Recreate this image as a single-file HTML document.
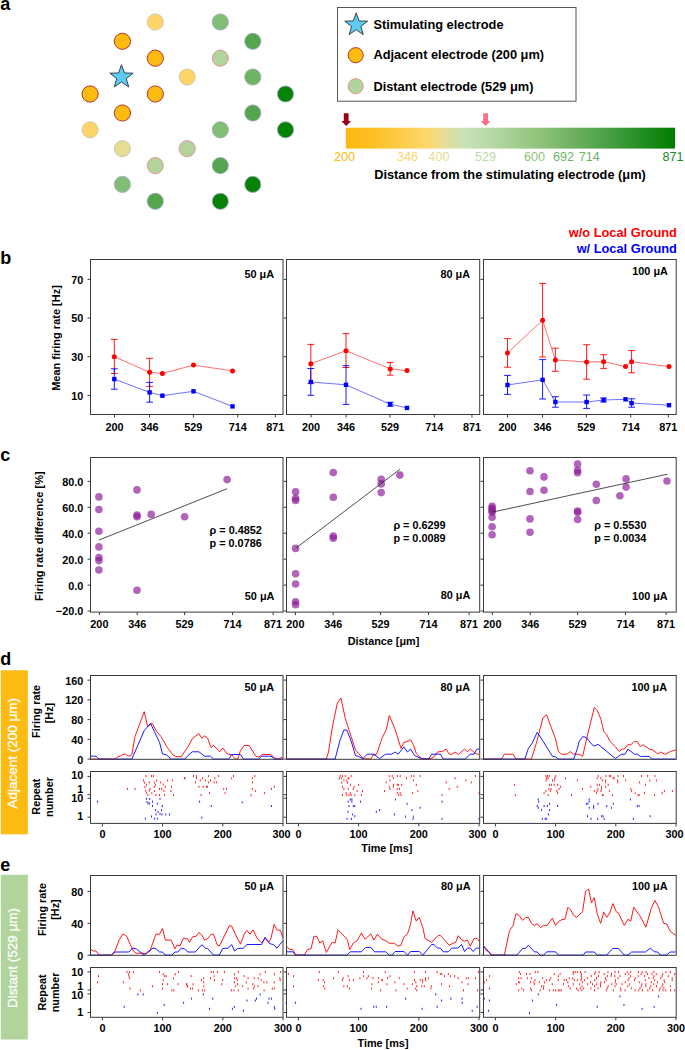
<!DOCTYPE html><html><head><meta charset="utf-8"><style>html,body{margin:0;padding:0;background:#fff;}svg{display:block;font-family:"Liberation Sans",sans-serif;}</style></head><body><svg width="685" height="1050" viewBox="0 0 685 1050"><rect width="685" height="1050" fill="#fff"/><text x="0.3" y="10.3" font-size="18" font-weight="bold" fill="#000" text-anchor="start">a</text>
<circle cx="155.3" cy="22" r="8.1" fill="#fdd466" stroke="#c9c7b6" stroke-width="0.9"/>
<circle cx="220.3" cy="22" r="8.1" fill="#82bd76" stroke="#a3aebb" stroke-width="0.9"/>
<circle cx="122.4" cy="41.3" r="8.1" fill="#fdbb12" stroke="#a3262a" stroke-width="0.9"/>
<circle cx="252.8" cy="41.3" r="8.1" fill="#55a54f" stroke="#a3aebb" stroke-width="0.9"/>
<circle cx="155.3" cy="58.2" r="8.1" fill="#fdbb12" stroke="#a3262a" stroke-width="0.9"/>
<circle cx="220.3" cy="58.2" r="8.1" fill="#b0d49c" stroke="#e98e96" stroke-width="0.9"/>
<circle cx="187.2" cy="77" r="8.1" fill="#fdd466" stroke="#c9c7b6" stroke-width="0.9"/>
<circle cx="252.8" cy="77" r="8.1" fill="#6db463" stroke="#a3aebb" stroke-width="0.9"/>
<circle cx="90.1" cy="94" r="8.1" fill="#fdbb12" stroke="#a3262a" stroke-width="0.9"/>
<circle cx="155.3" cy="94" r="8.1" fill="#fdbb12" stroke="#a3262a" stroke-width="0.9"/>
<circle cx="285.5" cy="94" r="8.1" fill="#068206" stroke="#a3aebb" stroke-width="0.9"/>
<circle cx="122.4" cy="113" r="8.1" fill="#fdbb12" stroke="#a3262a" stroke-width="0.9"/>
<circle cx="252.8" cy="113" r="8.1" fill="#55a54f" stroke="#a3aebb" stroke-width="0.9"/>
<circle cx="90.1" cy="129.8" r="8.1" fill="#fdd466" stroke="#c9c7b6" stroke-width="0.9"/>
<circle cx="220.3" cy="129.8" r="8.1" fill="#82bd76" stroke="#a3aebb" stroke-width="0.9"/>
<circle cx="285.5" cy="129.8" r="8.1" fill="#068206" stroke="#a3aebb" stroke-width="0.9"/>
<circle cx="122.4" cy="148.7" r="8.1" fill="#e4dd92" stroke="#c9c7b6" stroke-width="0.9"/>
<circle cx="187.2" cy="148.7" r="8.1" fill="#b0d49c" stroke="#e98e96" stroke-width="0.9"/>
<circle cx="155.3" cy="165.6" r="8.1" fill="#b0d49c" stroke="#e98e96" stroke-width="0.9"/>
<circle cx="220.3" cy="165.6" r="8.1" fill="#55a54f" stroke="#a3aebb" stroke-width="0.9"/>
<circle cx="122.4" cy="184.4" r="8.1" fill="#82bd76" stroke="#a3aebb" stroke-width="0.9"/>
<circle cx="252.8" cy="184.4" r="8.1" fill="#068206" stroke="#a3aebb" stroke-width="0.9"/>
<circle cx="155.3" cy="201.3" r="8.1" fill="#55a54f" stroke="#a3aebb" stroke-width="0.9"/>
<circle cx="220.3" cy="201.3" r="8.1" fill="#068206" stroke="#a3aebb" stroke-width="0.9"/>
<polygon points="121.5,64.7 124.44,72.95 133.2,73.2 126.26,78.55 128.73,86.95 121.5,82 114.27,86.95 116.74,78.55 109.8,73.2 118.56,72.95" fill="#5bcdf3" stroke="#2b2f3a" stroke-width="0.9" stroke-linejoin="miter"/>
<rect x="337.5" y="7.5" width="238.5" height="93.7" fill="#fff" stroke="#555" stroke-width="1"/>
<polygon points="356.2,12.9 359.08,20.94 367.61,21.19 360.86,26.41 363.25,34.61 356.2,29.8 349.15,34.61 351.54,26.41 344.79,21.19 353.32,20.94" fill="#5bcdf3" stroke="#2b2f3a" stroke-width="0.9"/>
<circle cx="355.7" cy="55.2" r="7.6" fill="#fdbb12" stroke="#a3262a" stroke-width="0.9"/>
<circle cx="355.7" cy="86.2" r="7.6" fill="#b0d49c" stroke="#e98e96" stroke-width="0.9"/>
<text x="373.4" y="28.6" font-size="12.8" font-weight="bold" fill="#000" text-anchor="start">Stimulating electrode</text>
<text x="373.4" y="59.4" font-size="12.8" font-weight="bold" fill="#000" text-anchor="start">Adjacent electrode (200 μm)</text>
<text x="373.4" y="90.8" font-size="12.8" font-weight="bold" fill="#000" text-anchor="start">Distant electrode (529 μm)</text>
<defs><linearGradient id="cb" x1="0" x2="1" y1="0" y2="0"><stop offset="0" stop-color="#fdba10"/><stop offset="0.08" stop-color="#fdc023"/><stop offset="0.25" stop-color="#fdd86c"/><stop offset="0.30" stop-color="#e6dc98"/><stop offset="0.36" stop-color="#c8e2b8"/><stop offset="0.42" stop-color="#bcdcab"/><stop offset="0.58" stop-color="#93c47d"/><stop offset="0.78" stop-color="#4ea24a"/><stop offset="1" stop-color="#007d00"/></linearGradient></defs>
<rect x="345.8" y="127.7" width="329.2" height="20.9" fill="url(#cb)"/>
<path d="M343.8,113.2 h4.8 v7.9 h2.5 L346.2,126.1 L341.3,121.1 h2.5 z" fill="#970019"/>
<path d="M483.2,113.2 h4.8 v7.9 h2.5 L485.6,126.1 L480.7,121.1 h2.5 z" fill="#ff6f88"/>
<text x="344.5" y="161.2" font-size="12.6" font-weight="normal" fill="#fdb913" text-anchor="middle">200</text>
<text x="407.5" y="161.2" font-size="12.6" font-weight="normal" fill="#fdd567" text-anchor="middle">346</text>
<text x="439" y="161.2" font-size="12.6" font-weight="normal" fill="#e3dd94" text-anchor="middle">400</text>
<text x="485.6" y="161.2" font-size="12.6" font-weight="normal" fill="#b9dba6" text-anchor="middle">529</text>
<text x="534.4" y="161.2" font-size="12.6" font-weight="normal" fill="#8ec47c" text-anchor="middle">600</text>
<text x="563.5" y="161.2" font-size="12.6" font-weight="normal" fill="#6cb462" text-anchor="middle">692</text>
<text x="589.2" y="161.2" font-size="12.6" font-weight="normal" fill="#6cb462" text-anchor="middle">714</text>
<text x="673" y="161.2" font-size="12.6" font-weight="normal" fill="#168a1a" text-anchor="middle">871</text>
<text x="510" y="178.6" font-size="12.8" font-weight="bold" fill="#000" text-anchor="middle">Distance from the stimulating electrode (μm)</text>
<text x="0.3" y="264.3" font-size="18" font-weight="bold" fill="#000" text-anchor="start">b</text>
<text x="676.9" y="236.6" font-size="12.8" font-weight="bold" fill="#ff0000" text-anchor="end">w/o Local Ground</text>
<text x="676.9" y="252.8" font-size="12.8" font-weight="bold" fill="#0000ff" text-anchor="end">w/ Local Ground</text>
<text x="60.2" y="338" font-size="11.0" font-weight="bold" fill="#000" text-anchor="middle" transform="rotate(-90 60.2 338)">Mean firing rate [Hz]</text>
<path d="M114.3,356.7 L149.6,372.3 L162.4,373.5 L193.5,365.1 L232.5,370.9" stroke="#ff0000" stroke-width="0.75" fill="none" stroke-opacity="0.75" stroke-linejoin="round"/>
<path d="M114.3,339.4V373.5M110.9,339.4H117.7M110.9,373.5H117.7" stroke="#ff0000" stroke-width="0.9" fill="none"/>
<path d="M149.6,358.3V386.4M146.2,358.3H153M146.2,386.4H153" stroke="#ff0000" stroke-width="0.9" fill="none"/>
<circle cx="114.3" cy="356.7" r="2.5" fill="#ff0000"/>
<circle cx="149.6" cy="372.3" r="2.5" fill="#ff0000"/>
<circle cx="162.4" cy="373.5" r="2.5" fill="#ff0000"/>
<circle cx="193.5" cy="365.1" r="2.5" fill="#ff0000"/>
<circle cx="232.5" cy="370.9" r="2.5" fill="#ff0000"/>
<path d="M114.3,379.1 L149.6,392.4 L162.4,395.7 L193.5,391.3 L232.5,406.4" stroke="#0000ff" stroke-width="0.75" fill="none" stroke-opacity="0.75" stroke-linejoin="round"/>
<path d="M114.3,368.8V389.2M110.9,368.8H117.7M110.9,389.2H117.7" stroke="#0000ff" stroke-width="0.9" fill="none"/>
<path d="M149.6,382.4V402.2M146.2,382.4H153M146.2,402.2H153" stroke="#0000ff" stroke-width="0.9" fill="none"/>
<rect x="112.1" y="376.9" width="4.4" height="4.4" fill="#0000ff"/>
<rect x="147.4" y="390.2" width="4.4" height="4.4" fill="#0000ff"/>
<rect x="160.2" y="393.5" width="4.4" height="4.4" fill="#0000ff"/>
<rect x="191.3" y="389.1" width="4.4" height="4.4" fill="#0000ff"/>
<rect x="230.3" y="404.2" width="4.4" height="4.4" fill="#0000ff"/>
<rect x="90.5" y="259.5" width="192.5" height="155" fill="none" stroke="#3a3a3a" stroke-width="1"/>
<path d="M87.5,395.37H90.5M87.5,356.71H90.5M87.5,318.05H90.5M87.5,279.39H90.5" stroke="#3a3a3a" stroke-width="1" fill="none"/>
<path d="M114.5,414.5V417.5M149.5,414.5V417.5M193.36,414.5V417.5M237.71,414.5V417.5M275.34,414.5V417.5" stroke="#3a3a3a" stroke-width="1" fill="none"/>
<text x="114.5" y="430.6" font-size="10.85" font-weight="bold" fill="#000" text-anchor="middle">200</text>
<text x="149.5" y="430.6" font-size="10.85" font-weight="bold" fill="#000" text-anchor="middle">346</text>
<text x="193.36" y="430.6" font-size="10.85" font-weight="bold" fill="#000" text-anchor="middle">529</text>
<text x="237.71" y="430.6" font-size="10.85" font-weight="bold" fill="#000" text-anchor="middle">714</text>
<text x="275.34" y="430.6" font-size="10.85" font-weight="bold" fill="#000" text-anchor="middle">871</text>
<text x="274" y="278.4" font-size="10.85" font-weight="bold" fill="#000" text-anchor="end">50 μA</text>
<path d="M310.8,363.8 L346,350.7 L390.2,368.9 L407,370.6" stroke="#ff0000" stroke-width="0.75" fill="none" stroke-opacity="0.75" stroke-linejoin="round"/>
<path d="M310.8,344.4V383.4M307.4,344.4H314.2M307.4,383.4H314.2" stroke="#ff0000" stroke-width="0.9" fill="none"/>
<path d="M346,333.6V367.5M342.6,333.6H349.4M342.6,367.5H349.4" stroke="#ff0000" stroke-width="0.9" fill="none"/>
<path d="M390.2,362.4V375.2M386.8,362.4H393.6M386.8,375.2H393.6" stroke="#ff0000" stroke-width="0.9" fill="none"/>
<circle cx="310.8" cy="363.8" r="2.5" fill="#ff0000"/>
<circle cx="346" cy="350.7" r="2.5" fill="#ff0000"/>
<circle cx="390.2" cy="368.9" r="2.5" fill="#ff0000"/>
<circle cx="407" cy="370.6" r="2.5" fill="#ff0000"/>
<path d="M310.8,382 L346,384.8 L390.2,404.2 L407,407.9" stroke="#0000ff" stroke-width="0.75" fill="none" stroke-opacity="0.75" stroke-linejoin="round"/>
<path d="M310.8,368.5V395.3M307.4,368.5H314.2M307.4,395.3H314.2" stroke="#0000ff" stroke-width="0.9" fill="none"/>
<path d="M346,365.7V404.4M342.6,365.7H349.4M342.6,404.4H349.4" stroke="#0000ff" stroke-width="0.9" fill="none"/>
<path d="M390.2,402.3V406.3M386.8,402.3H393.6M386.8,406.3H393.6" stroke="#0000ff" stroke-width="0.9" fill="none"/>
<rect x="308.6" y="379.8" width="4.4" height="4.4" fill="#0000ff"/>
<rect x="343.8" y="382.6" width="4.4" height="4.4" fill="#0000ff"/>
<rect x="388" y="402" width="4.4" height="4.4" fill="#0000ff"/>
<rect x="404.8" y="405.7" width="4.4" height="4.4" fill="#0000ff"/>
<rect x="286.5" y="259.5" width="193.2" height="155" fill="none" stroke="#3a3a3a" stroke-width="1"/>
<path d="M283.5,395.37H286.5M283.5,356.71H286.5M283.5,318.05H286.5M283.5,279.39H286.5" stroke="#3a3a3a" stroke-width="1" fill="none"/>
<path d="M311.1,414.5V417.5M346.1,414.5V417.5M389.96,414.5V417.5M434.31,414.5V417.5M471.94,414.5V417.5" stroke="#3a3a3a" stroke-width="1" fill="none"/>
<text x="311.1" y="430.6" font-size="10.85" font-weight="bold" fill="#000" text-anchor="middle">200</text>
<text x="346.1" y="430.6" font-size="10.85" font-weight="bold" fill="#000" text-anchor="middle">346</text>
<text x="389.96" y="430.6" font-size="10.85" font-weight="bold" fill="#000" text-anchor="middle">529</text>
<text x="434.31" y="430.6" font-size="10.85" font-weight="bold" fill="#000" text-anchor="middle">714</text>
<text x="471.94" y="430.6" font-size="10.85" font-weight="bold" fill="#000" text-anchor="middle">871</text>
<text x="470.1" y="277.9" font-size="10.85" font-weight="bold" fill="#000" text-anchor="end">80 μA</text>
<path d="M507.5,352.9 L542.6,320.2 L555.4,359.9 L586.6,362 L603.6,361.7 L625.5,366.6 L631.6,361.7 L669,366.6" stroke="#ff0000" stroke-width="0.75" fill="none" stroke-opacity="0.75" stroke-linejoin="round"/>
<path d="M507.5,338.6V367.2M504.1,338.6H510.9M504.1,367.2H510.9" stroke="#ff0000" stroke-width="0.9" fill="none"/>
<path d="M542.6,283.4V357M539.2,283.4H546M539.2,357H546" stroke="#ff0000" stroke-width="0.9" fill="none"/>
<path d="M555.4,348.2V371.3M552,348.2H558.8M552,371.3H558.8" stroke="#ff0000" stroke-width="0.9" fill="none"/>
<path d="M586.6,344.7V379.2M583.2,344.7H590M583.2,379.2H590" stroke="#ff0000" stroke-width="0.9" fill="none"/>
<path d="M603.6,354.7V368.4M600.2,354.7H607M600.2,368.4H607" stroke="#ff0000" stroke-width="0.9" fill="none"/>
<path d="M631.6,350.6V372.8M628.2,350.6H635M628.2,372.8H635" stroke="#ff0000" stroke-width="0.9" fill="none"/>
<circle cx="507.5" cy="352.9" r="2.5" fill="#ff0000"/>
<circle cx="542.6" cy="320.2" r="2.5" fill="#ff0000"/>
<circle cx="555.4" cy="359.9" r="2.5" fill="#ff0000"/>
<circle cx="586.6" cy="362" r="2.5" fill="#ff0000"/>
<circle cx="603.6" cy="361.7" r="2.5" fill="#ff0000"/>
<circle cx="625.5" cy="366.6" r="2.5" fill="#ff0000"/>
<circle cx="631.6" cy="361.7" r="2.5" fill="#ff0000"/>
<circle cx="669" cy="366.6" r="2.5" fill="#ff0000"/>
<path d="M507.5,385 L542.6,379.8 L555.4,402 L586.6,402 L603.6,400 L625.5,399.3 L631.6,403.1 L669,405.2" stroke="#0000ff" stroke-width="0.75" fill="none" stroke-opacity="0.75" stroke-linejoin="round"/>
<path d="M507.5,375.4V394.4M504.1,375.4H510.9M504.1,394.4H510.9" stroke="#0000ff" stroke-width="0.9" fill="none"/>
<path d="M542.6,359.6V399M539.2,359.6H546M539.2,399H546" stroke="#0000ff" stroke-width="0.9" fill="none"/>
<path d="M555.4,396.7V407.2M552,396.7H558.8M552,407.2H558.8" stroke="#0000ff" stroke-width="0.9" fill="none"/>
<path d="M586.6,395V408.4M583.2,395H590M583.2,408.4H590" stroke="#0000ff" stroke-width="0.9" fill="none"/>
<path d="M603.6,398V402M600.2,398H607M600.2,402H607" stroke="#0000ff" stroke-width="0.9" fill="none"/>
<path d="M631.6,398.8V407.2M628.2,398.8H635M628.2,407.2H635" stroke="#0000ff" stroke-width="0.9" fill="none"/>
<rect x="505.3" y="382.8" width="4.4" height="4.4" fill="#0000ff"/>
<rect x="540.4" y="377.6" width="4.4" height="4.4" fill="#0000ff"/>
<rect x="553.2" y="399.8" width="4.4" height="4.4" fill="#0000ff"/>
<rect x="584.4" y="399.8" width="4.4" height="4.4" fill="#0000ff"/>
<rect x="601.4" y="397.8" width="4.4" height="4.4" fill="#0000ff"/>
<rect x="623.3" y="397.1" width="4.4" height="4.4" fill="#0000ff"/>
<rect x="629.4" y="400.9" width="4.4" height="4.4" fill="#0000ff"/>
<rect x="666.8" y="403" width="4.4" height="4.4" fill="#0000ff"/>
<rect x="483.5" y="259.5" width="192.7" height="155" fill="none" stroke="#3a3a3a" stroke-width="1"/>
<path d="M480.5,395.37H483.5M480.5,356.71H483.5M480.5,318.05H483.5M480.5,279.39H483.5" stroke="#3a3a3a" stroke-width="1" fill="none"/>
<path d="M507.5,414.5V417.5M542.5,414.5V417.5M586.36,414.5V417.5M630.71,414.5V417.5M668.34,414.5V417.5" stroke="#3a3a3a" stroke-width="1" fill="none"/>
<text x="507.5" y="430.6" font-size="10.85" font-weight="bold" fill="#000" text-anchor="middle">200</text>
<text x="542.5" y="430.6" font-size="10.85" font-weight="bold" fill="#000" text-anchor="middle">346</text>
<text x="586.36" y="430.6" font-size="10.85" font-weight="bold" fill="#000" text-anchor="middle">529</text>
<text x="630.71" y="430.6" font-size="10.85" font-weight="bold" fill="#000" text-anchor="middle">714</text>
<text x="668.34" y="430.6" font-size="10.85" font-weight="bold" fill="#000" text-anchor="middle">871</text>
<text x="667.9" y="275" font-size="10.85" font-weight="bold" fill="#000" text-anchor="end">100 μA</text>
<text x="83.3" y="399.57" font-size="10.85" font-weight="bold" fill="#000" text-anchor="end">10</text>
<text x="83.3" y="360.91" font-size="10.85" font-weight="bold" fill="#000" text-anchor="end">30</text>
<text x="83.3" y="322.25" font-size="10.85" font-weight="bold" fill="#000" text-anchor="end">50</text>
<text x="83.3" y="283.59" font-size="10.85" font-weight="bold" fill="#000" text-anchor="end">70</text>
<text x="0.3" y="461.3" font-size="18" font-weight="bold" fill="#000" text-anchor="start">c</text>
<text x="42.8" y="536.2" font-size="11.0" font-weight="bold" fill="#000" text-anchor="middle" transform="rotate(-90 42.8 536.2)">Firing rate difference [%]</text>
<circle cx="98.9" cy="496.9" r="3.8" fill="#8e1a99" fill-opacity="0.68"/>
<circle cx="98.9" cy="509.5" r="3.8" fill="#8e1a99" fill-opacity="0.68"/>
<circle cx="98.9" cy="531.2" r="3.8" fill="#8e1a99" fill-opacity="0.68"/>
<circle cx="98.9" cy="546.9" r="3.8" fill="#8e1a99" fill-opacity="0.68"/>
<circle cx="98.9" cy="557.6" r="3.8" fill="#8e1a99" fill-opacity="0.68"/>
<circle cx="98.9" cy="560.6" r="3.8" fill="#8e1a99" fill-opacity="0.68"/>
<circle cx="98.9" cy="570" r="3.8" fill="#8e1a99" fill-opacity="0.68"/>
<circle cx="137" cy="489.9" r="3.8" fill="#8e1a99" fill-opacity="0.68"/>
<circle cx="137" cy="515.1" r="3.8" fill="#8e1a99" fill-opacity="0.68"/>
<circle cx="137" cy="516.7" r="3.8" fill="#8e1a99" fill-opacity="0.68"/>
<circle cx="137" cy="590.3" r="3.8" fill="#8e1a99" fill-opacity="0.68"/>
<circle cx="151.2" cy="514.4" r="3.8" fill="#8e1a99" fill-opacity="0.68"/>
<circle cx="184.6" cy="516.7" r="3.8" fill="#8e1a99" fill-opacity="0.68"/>
<circle cx="227.1" cy="479.6" r="3.8" fill="#8e1a99" fill-opacity="0.68"/>
<path d="M98.9,540.1L227.1,488.7" stroke="#222" stroke-width="0.8"/>
<text x="209.6" y="534" font-size="10.85" font-weight="bold" fill="#000" text-anchor="start">ρ = 0.4852</text>
<text x="209.6" y="546.7" font-size="10.85" font-weight="bold" fill="#000" text-anchor="start">p = 0.0786</text>
<rect x="90.5" y="457.5" width="192.5" height="154.6" fill="none" stroke="#3a3a3a" stroke-width="1"/>
<path d="M87.5,481.34H90.5M87.5,507.28H90.5M87.5,533.22H90.5M87.5,559.16H90.5M87.5,585.1H90.5M87.5,611.04H90.5" stroke="#3a3a3a" stroke-width="1" fill="none"/>
<path d="M99.4,612.1V615.1M137.2,612.1V615.1M184.58,612.1V615.1M232.47,612.1V615.1M273.12,612.1V615.1" stroke="#3a3a3a" stroke-width="1" fill="none"/>
<text x="99.4" y="627.9" font-size="10.85" font-weight="bold" fill="#000" text-anchor="middle">200</text>
<text x="137.2" y="627.9" font-size="10.85" font-weight="bold" fill="#000" text-anchor="middle">346</text>
<text x="184.58" y="627.9" font-size="10.85" font-weight="bold" fill="#000" text-anchor="middle">529</text>
<text x="232.47" y="627.9" font-size="10.85" font-weight="bold" fill="#000" text-anchor="middle">714</text>
<text x="273.12" y="627.9" font-size="10.85" font-weight="bold" fill="#000" text-anchor="middle">871</text>
<text x="274.4" y="600" font-size="10.85" font-weight="bold" fill="#000" text-anchor="end">50 μA</text>
<circle cx="295.6" cy="491.8" r="3.8" fill="#8e1a99" fill-opacity="0.68"/>
<circle cx="295.6" cy="498.2" r="3.8" fill="#8e1a99" fill-opacity="0.68"/>
<circle cx="295.6" cy="500.5" r="3.8" fill="#8e1a99" fill-opacity="0.68"/>
<circle cx="295.6" cy="548.4" r="3.8" fill="#8e1a99" fill-opacity="0.68"/>
<circle cx="295.6" cy="573.8" r="3.8" fill="#8e1a99" fill-opacity="0.68"/>
<circle cx="295.6" cy="584" r="3.8" fill="#8e1a99" fill-opacity="0.68"/>
<circle cx="295.6" cy="601.8" r="3.8" fill="#8e1a99" fill-opacity="0.68"/>
<circle cx="295.6" cy="604.7" r="3.8" fill="#8e1a99" fill-opacity="0.68"/>
<circle cx="333.3" cy="472.5" r="3.8" fill="#8e1a99" fill-opacity="0.68"/>
<circle cx="333.3" cy="497.3" r="3.8" fill="#8e1a99" fill-opacity="0.68"/>
<circle cx="333.3" cy="536.1" r="3.8" fill="#8e1a99" fill-opacity="0.68"/>
<circle cx="333.3" cy="538.2" r="3.8" fill="#8e1a99" fill-opacity="0.68"/>
<circle cx="381.2" cy="479.2" r="3.8" fill="#8e1a99" fill-opacity="0.68"/>
<circle cx="381.2" cy="483.9" r="3.8" fill="#8e1a99" fill-opacity="0.68"/>
<circle cx="381.2" cy="492.6" r="3.8" fill="#8e1a99" fill-opacity="0.68"/>
<circle cx="399.9" cy="475.1" r="3.8" fill="#8e1a99" fill-opacity="0.68"/>
<path d="M295.6,548.4L399.9,469.3" stroke="#222" stroke-width="0.8"/>
<text x="393.4" y="529.4" font-size="10.85" font-weight="bold" fill="#000" text-anchor="start">ρ = 0.6299</text>
<text x="393.4" y="542" font-size="10.85" font-weight="bold" fill="#000" text-anchor="start">p = 0.0089</text>
<rect x="286.5" y="457.5" width="193.2" height="154.6" fill="none" stroke="#3a3a3a" stroke-width="1"/>
<path d="M283.5,481.34H286.5M283.5,507.28H286.5M283.5,533.22H286.5M283.5,559.16H286.5M283.5,585.1H286.5M283.5,611.04H286.5" stroke="#3a3a3a" stroke-width="1" fill="none"/>
<path d="M295.4,612.1V615.1M333.2,612.1V615.1M380.58,612.1V615.1M428.47,612.1V615.1M469.12,612.1V615.1" stroke="#3a3a3a" stroke-width="1" fill="none"/>
<text x="295.4" y="627.9" font-size="10.85" font-weight="bold" fill="#000" text-anchor="middle">200</text>
<text x="333.2" y="627.9" font-size="10.85" font-weight="bold" fill="#000" text-anchor="middle">346</text>
<text x="380.58" y="627.9" font-size="10.85" font-weight="bold" fill="#000" text-anchor="middle">529</text>
<text x="428.47" y="627.9" font-size="10.85" font-weight="bold" fill="#000" text-anchor="middle">714</text>
<text x="469.12" y="627.9" font-size="10.85" font-weight="bold" fill="#000" text-anchor="middle">871</text>
<text x="470.3" y="599.4" font-size="10.85" font-weight="bold" fill="#000" text-anchor="end">80 μA</text>
<circle cx="492.1" cy="506.4" r="3.8" fill="#8e1a99" fill-opacity="0.68"/>
<circle cx="492.1" cy="508.4" r="3.8" fill="#8e1a99" fill-opacity="0.68"/>
<circle cx="492.1" cy="510.4" r="3.8" fill="#8e1a99" fill-opacity="0.68"/>
<circle cx="492.1" cy="512.2" r="3.8" fill="#8e1a99" fill-opacity="0.68"/>
<circle cx="492.1" cy="517.2" r="3.8" fill="#8e1a99" fill-opacity="0.68"/>
<circle cx="492.1" cy="526.8" r="3.8" fill="#8e1a99" fill-opacity="0.68"/>
<circle cx="492.1" cy="534.7" r="3.8" fill="#8e1a99" fill-opacity="0.68"/>
<circle cx="530" cy="470.7" r="3.8" fill="#8e1a99" fill-opacity="0.68"/>
<circle cx="530" cy="491.5" r="3.8" fill="#8e1a99" fill-opacity="0.68"/>
<circle cx="530" cy="518.9" r="3.8" fill="#8e1a99" fill-opacity="0.68"/>
<circle cx="530" cy="532.3" r="3.8" fill="#8e1a99" fill-opacity="0.68"/>
<circle cx="544" cy="476.9" r="3.8" fill="#8e1a99" fill-opacity="0.68"/>
<circle cx="544" cy="490.3" r="3.8" fill="#8e1a99" fill-opacity="0.68"/>
<circle cx="577.6" cy="464" r="3.8" fill="#8e1a99" fill-opacity="0.68"/>
<circle cx="577.6" cy="470.4" r="3.8" fill="#8e1a99" fill-opacity="0.68"/>
<circle cx="577.6" cy="472.8" r="3.8" fill="#8e1a99" fill-opacity="0.68"/>
<circle cx="577.6" cy="511" r="3.8" fill="#8e1a99" fill-opacity="0.68"/>
<circle cx="577.6" cy="512.2" r="3.8" fill="#8e1a99" fill-opacity="0.68"/>
<circle cx="577.6" cy="519.5" r="3.8" fill="#8e1a99" fill-opacity="0.68"/>
<circle cx="596.3" cy="484.2" r="3.8" fill="#8e1a99" fill-opacity="0.68"/>
<circle cx="596.3" cy="500.5" r="3.8" fill="#8e1a99" fill-opacity="0.68"/>
<circle cx="619.9" cy="495.8" r="3.8" fill="#8e1a99" fill-opacity="0.68"/>
<circle cx="626.1" cy="478.9" r="3.8" fill="#8e1a99" fill-opacity="0.68"/>
<circle cx="626.1" cy="487.1" r="3.8" fill="#8e1a99" fill-opacity="0.68"/>
<circle cx="667" cy="481" r="3.8" fill="#8e1a99" fill-opacity="0.68"/>
<path d="M492.1,512.2L667.5,474.2" stroke="#222" stroke-width="0.8"/>
<text x="594.2" y="529.4" font-size="10.85" font-weight="bold" fill="#000" text-anchor="start">ρ = 0.5530</text>
<text x="594.2" y="542" font-size="10.85" font-weight="bold" fill="#000" text-anchor="start">p = 0.0034</text>
<rect x="483.5" y="457.5" width="192.7" height="154.6" fill="none" stroke="#3a3a3a" stroke-width="1"/>
<path d="M480.5,481.34H483.5M480.5,507.28H483.5M480.5,533.22H483.5M480.5,559.16H483.5M480.5,585.1H483.5M480.5,611.04H483.5" stroke="#3a3a3a" stroke-width="1" fill="none"/>
<path d="M492.4,612.1V615.1M530.2,612.1V615.1M577.58,612.1V615.1M625.47,612.1V615.1M666.12,612.1V615.1" stroke="#3a3a3a" stroke-width="1" fill="none"/>
<text x="492.4" y="627.9" font-size="10.85" font-weight="bold" fill="#000" text-anchor="middle">200</text>
<text x="530.2" y="627.9" font-size="10.85" font-weight="bold" fill="#000" text-anchor="middle">346</text>
<text x="577.58" y="627.9" font-size="10.85" font-weight="bold" fill="#000" text-anchor="middle">529</text>
<text x="625.47" y="627.9" font-size="10.85" font-weight="bold" fill="#000" text-anchor="middle">714</text>
<text x="666.12" y="627.9" font-size="10.85" font-weight="bold" fill="#000" text-anchor="middle">871</text>
<text x="667.7" y="600.4" font-size="10.85" font-weight="bold" fill="#000" text-anchor="end">100 μA</text>
<text x="83.3" y="485.74" font-size="10.85" font-weight="bold" fill="#000" text-anchor="end">80.0</text>
<text x="83.3" y="511.68" font-size="10.85" font-weight="bold" fill="#000" text-anchor="end">60.0</text>
<text x="83.3" y="537.62" font-size="10.85" font-weight="bold" fill="#000" text-anchor="end">40.0</text>
<text x="83.3" y="563.56" font-size="10.85" font-weight="bold" fill="#000" text-anchor="end">20.0</text>
<text x="83.3" y="589.5" font-size="10.85" font-weight="bold" fill="#000" text-anchor="end">0.0</text>
<text x="83.3" y="615.44" font-size="10.85" font-weight="bold" fill="#000" text-anchor="end">−20.0</text>
<text x="383.5" y="645.3" font-size="10.85" font-weight="bold" fill="#000" text-anchor="middle">Distance [μm]</text>
<text x="0.3" y="664.8" font-size="18" font-weight="bold" fill="#000" text-anchor="start">d</text>
<rect x="0.8" y="670.3" width="27" height="164" fill="#fdbb12"/>
<text x="16.7" y="753.2" font-size="13.5" font-weight="normal" fill="#fff" text-anchor="middle" transform="rotate(-90 16.7 753.2)" stroke="#fff" stroke-width="0.3">Adjacent (200 μm)</text>
<text x="39.8" y="711.4" font-size="10.85" font-weight="bold" fill="#000" text-anchor="middle" transform="rotate(-90 39.8 711.4)">Firing rate</text>
<text x="52.9" y="713" font-size="10.85" font-weight="bold" fill="#000" text-anchor="middle" transform="rotate(-90 52.9 713)">[Hz]</text>
<text x="39.8" y="796.6" font-size="10.85" font-weight="bold" fill="#000" text-anchor="middle" transform="rotate(-90 39.8 796.6)">Repeat</text>
<text x="53.2" y="797" font-size="10.85" font-weight="bold" fill="#000" text-anchor="middle" transform="rotate(-90 53.2 797)">number</text>
<path d="M90.5,759.1 L115,759.1 L117.2,757 L120.1,756.2 L123,754.3 L125.7,754.3 L128.9,756.2 L131.8,754.7 L135,736.5 L144.2,711.7 L147.6,726.3 L152.2,723.4 L156.6,731.4 L161,736.5 L166.8,746.7 L172.7,754.7 L175.6,756.6 L181.4,756.6 L188,746.7 L192.3,738.7 L198.9,733.6 L201.8,738.2 L204.7,735.8 L207.6,738.2 L211,747.4 L213.5,745.5 L220,751.8 L222.7,747.9 L226.6,753.3 L228.8,754.3 L231.7,754.7 L235.4,759.1 L237.8,759.1 L240.5,750.4 L244.1,745.5 L249.2,745.5 L255.8,756.2 L258.7,757 L262.4,754.5 L270.4,754.5 L275.5,758.4 L278.4,759.1 L282.6,757" stroke="#ff0000" stroke-width="0.9" fill="none" stroke-opacity="1" stroke-linejoin="round"/>
<path d="M90.5,756.2 L96,756.2 L99,759.1 L131.8,759.1 L144.2,730.7 L150.5,723.4 L159.5,742.3 L162.5,754 L166.1,754.7 L171.2,759.1 L185,759.1 L187.9,755.5 L192.3,751.8 L198.9,751.8 L204.7,756.2 L210.5,756.2 L213.5,759.1 L228.8,759.1 L231.7,754.5 L240.5,754.5 L243.4,759.1 L258.7,759.1 L261.6,756.2 L271.1,756.2 L274.8,759.1 L282.6,759.1" stroke="#0000ff" stroke-width="0.9" fill="none" stroke-opacity="1" stroke-linejoin="round"/>
<rect x="90.5" y="675.5" width="192.5" height="83.8" fill="none" stroke="#3a3a3a" stroke-width="1"/>
<path d="M87.5,759.1H90.5M87.5,739.3H90.5M87.5,719.6H90.5M87.5,699.8H90.5M87.5,680.1H90.5" stroke="#3a3a3a" stroke-width="1" fill="none"/>
<text x="274" y="690.9" font-size="10.85" font-weight="bold" fill="#000" text-anchor="end">50 μA</text>
<path d="M146,775v2.1M151.5,775v2.1M153.4,775v2.1M184.4,777.2v2.1M143.5,779.4v2.1M149.3,781.3v2.1M156.6,779.4v2.1M167.6,779.4v2.1M172.4,779.4v2.1M144.6,781.6v2.1M146.4,783.8v2.1M154.4,781.6v2.1M160.7,781.3v2.1M163.2,783.4v2.1M155.4,783.8v2.1M165.4,785.7v2.1M171.5,785.7v2.1M127.4,787.9v2.1M135,787.9v2.1M144.9,786v2.1M150,787.9v2.1M154.4,785.7v2.1M159.5,787.9v2.1M161.7,787.9v2.1M145.7,789.6v2.1M149.3,789.6v2.1M154.4,790v2.1M163.9,790v2.1M170.9,790v2.1M146.4,791.8v2.1M151.8,792.1v2.1M147.9,794v2.1M155.9,794v2.1M159.5,794v2.1M164.6,794v2.1M173.4,794v2.1M193.5,775v2.1M196.4,775v2.1M208.4,775v2.1M218.6,775v2.1M233.5,775v2.1M254.8,775v2.1M196.4,777.2v2.1M202.5,777.2v2.1M214.9,777.2v2.1M231.7,777.2v2.1M252.4,777.2v2.1M200.3,779.4v2.1M205.4,779.4v2.1M210.5,779.4v2.1M195.5,781.3v2.1M208.4,781.3v2.1M214.2,781.3v2.1M216.4,781.3v2.1M252.4,781.3v2.1M198.9,785.7v2.1M203.2,785.7v2.1M206.6,785.7v2.1M207.6,785.7v2.1M274.3,785.7v2.1M223.7,787.9v2.1M226.6,787.9v2.1M252.4,787.9v2.1M271.4,787.9v2.1M255.4,790v2.1M209.5,792.1v2.1M225.1,792.1v2.1M264.6,792.1v2.1M201.1,794v2.1M251,794v2.1M185,777.2v2.1" stroke="#ff0000" stroke-width="0.85" fill="none"/>
<path d="M97.5,800.6v2.1M146.4,797.7v2.1M149.7,798v2.1M160,797.7v2.1M147,801v2.1M152.5,800.6v2.1M148,802.4v2.1M149.3,802.4v2.1M157.3,802.4v2.1M152.5,804.9v2.1M162.3,805v2.1M155.6,809v2.1M161.5,809v2.1M158,811v2.1M156,813.4v2.1M160,813v2.1M162,813.4v2.1M165.8,813.4v2.1M169.5,813.4v2.1M151.5,815.5v2.1M145.4,817.6v2.1M154.4,817.6v2.1M157.3,817.6v2.1M199.6,800.6v2.1M211.3,805v2.1M242.2,801.3v2.1M271.4,805v2.1M201.8,816.6v2.1" stroke="#0000ff" stroke-width="0.85" fill="none"/>
<rect x="90.5" y="771.5" width="192.5" height="51.9" fill="none" stroke="#3a3a3a" stroke-width="1"/>
<path d="M87.5,776.4H90.5M87.5,794.7H90.5M87.5,798.2H90.5M87.5,817.2H90.5" stroke="#3a3a3a" stroke-width="1" fill="none"/>
<path d="M102.4,823.4V826.4M162.6,823.4V826.4M222.8,823.4V826.4M283,823.4V826.4" stroke="#3a3a3a" stroke-width="1" fill="none"/>
<text x="102.4" y="837.5" font-size="10.85" font-weight="bold" fill="#000" text-anchor="middle">0</text>
<text x="162.6" y="837.5" font-size="10.85" font-weight="bold" fill="#000" text-anchor="middle">100</text>
<text x="222.8" y="837.5" font-size="10.85" font-weight="bold" fill="#000" text-anchor="middle">200</text>
<text x="281.5" y="837.5" font-size="10.85" font-weight="bold" fill="#000" text-anchor="middle">300</text>
<path d="M286.7,759.1 L326.3,759.1 L328.5,752 L332.2,728 L337.3,703.1 L340.9,698 L345.3,718.5 L351.2,736.7 L355.5,749.9 L359.9,755 L363.6,758.6 L370.9,759.1 L373,755 L376.7,754.2 L382,738.2 L386.4,729.4 L389.3,715.5 L395.1,729.4 L401,748.4 L403.9,742.3 L406.8,741.8 L410.5,739.6 L413.4,744.7 L416.3,753.5 L420,757.2 L422.9,759.1 L430.2,758.6 L433.8,757.2 L437.5,752 L442.6,751.3 L446.2,749.1 L449.2,754.2 L452.1,754.2 L455,752 L458.6,754.5 L464.5,749.1 L467.4,751.6 L470.3,749.1 L475.4,753.5 L479.2,754.5" stroke="#ff0000" stroke-width="0.9" fill="none" stroke-opacity="1" stroke-linejoin="round"/>
<path d="M286.7,759.1 L335.1,759.1 L340.2,739.6 L343.9,730.1 L346.8,730.1 L351.2,741.1 L355.5,755.7 L358.5,756.4 L362.8,758.6 L367.2,754.2 L373.8,754.2 L379.6,758.6 L385.6,754.2 L391.5,754.2 L395.1,752 L398.1,754.2 L403.9,746.9 L407.5,752 L410.5,749.1 L414.8,755.7 L421.4,758.6 L428.7,759.1 L431.6,754.2 L440.4,754.2 L443.3,759.1 L465.2,759.1 L470.3,754.2 L474,754.2 L476.9,749.1 L479.2,749.1" stroke="#0000ff" stroke-width="0.9" fill="none" stroke-opacity="1" stroke-linejoin="round"/>
<rect x="286.5" y="675.5" width="193.2" height="83.8" fill="none" stroke="#3a3a3a" stroke-width="1"/>
<path d="M283.5,759.1H286.5M283.5,739.3H286.5M283.5,719.6H286.5M283.5,699.8H286.5M283.5,680.1H286.5" stroke="#3a3a3a" stroke-width="1" fill="none"/>
<text x="470.1" y="690.9" font-size="10.85" font-weight="bold" fill="#000" text-anchor="end">80 μA</text>
<path d="M340.2,775v2.1M342.4,775v2.1M345.3,775v2.1M348.2,777.2v2.1M351.2,775v2.1M339.5,777.2v2.1M341.7,777.2v2.1M343.9,779.4v2.1M346.8,779.4v2.1M349,777.2v2.1M341.7,781.6v2.1M347.5,781.6v2.1M350.4,783.8v2.1M358.5,783.8v2.1M342.4,785.7v2.1M354.1,785.7v2.1M343.9,787.9v2.1M348.2,787.9v2.1M353.3,787.9v2.1M357,790v2.1M362.5,790v2.1M342.4,794v2.1M346.8,794v2.1M349,794v2.1M351.2,794v2.1M354.8,794v2.1M361.4,794v2.1M346,792v2.1M350.4,792.1v2.1M389.3,775v2.1M392.2,775v2.1M397.3,775v2.1M400.2,775v2.1M411.2,775v2.1M413.8,775v2.1M420.2,775v2.1M475.4,775v2.1M393.4,777.2v2.1M406.5,777.2v2.1M413.4,779.4v2.1M455,777.2v2.1M390,779.4v2.1M465.9,779.4v2.1M386.1,781.3v2.1M446.2,781.3v2.1M471.3,781.3v2.1M389.3,785.7v2.1M393.4,783.8v2.1M393.4,785.7v2.1M397.3,783.8v2.1M398.4,783.8v2.1M401.7,783.8v2.1M416.3,783.8v2.1M457.2,785.7v2.1M390,787.9v2.1M397.3,787.9v2.1M399.5,787.9v2.1M449.2,787.9v2.1M384.6,790v2.1M417.8,790v2.1M397.3,792.1v2.1M400.2,792.1v2.1M412.7,792.1v2.1M479.1,792.1v2.1M398.8,794v2.1M401,794v2.1M442.1,794v2.1" stroke="#ff0000" stroke-width="0.85" fill="none"/>
<path d="M350.4,798.4v2.1M351.9,798.4v2.1M348.2,800.6v2.1M351.9,800.6v2.1M360.6,800.6v2.1M349,805v2.1M353.3,805v2.1M354.8,805v2.1M348,810.8v2.1M352.6,813.4v2.1M354.8,815.2v2.1M347.1,817.8v2.1M351.4,817.8v2.1M376.3,810.8v2.1M379.6,809v2.1M395.4,798.4v2.1M442.1,800.6v2.1M407.1,802.8v2.1M420.2,806.7v2.1M411.9,809v2.1M394.4,813.4v2.1M405.6,815.5v2.1M413.4,815.5v2.1M413,817.8v2.1M442.1,817.8v2.1M479.1,817.8v2.1" stroke="#0000ff" stroke-width="0.85" fill="none"/>
<rect x="286.5" y="771.5" width="193.2" height="51.9" fill="none" stroke="#3a3a3a" stroke-width="1"/>
<path d="M283.5,776.4H286.5M283.5,794.7H286.5M283.5,798.2H286.5M283.5,817.2H286.5" stroke="#3a3a3a" stroke-width="1" fill="none"/>
<path d="M298.4,823.4V826.4M358.6,823.4V826.4M418.8,823.4V826.4M479,823.4V826.4" stroke="#3a3a3a" stroke-width="1" fill="none"/>
<text x="298.4" y="837.5" font-size="10.85" font-weight="bold" fill="#000" text-anchor="middle">0</text>
<text x="358.6" y="837.5" font-size="10.85" font-weight="bold" fill="#000" text-anchor="middle">100</text>
<text x="418.8" y="837.5" font-size="10.85" font-weight="bold" fill="#000" text-anchor="middle">200</text>
<text x="477.5" y="837.5" font-size="10.85" font-weight="bold" fill="#000" text-anchor="middle">300</text>
<path d="M483.7,759.1 L501.4,759.1 L504.4,754.2 L513.1,754.2 L516,759.1 L531.4,759.1 L536.5,742.6 L543,717.7 L546.7,714.8 L550.3,725 L555.5,738.9 L558.4,751.3 L561.3,754.2 L567.1,754.2 L570.1,751.6 L573.7,754.2 L579,754.2 L582.6,756.4 L587.8,733.8 L594.3,707.5 L597.2,710.4 L600.9,719.2 L603.8,731.6 L606.7,734.5 L609.7,741.1 L615.5,746.9 L619.1,751.3 L622.1,749.1 L624.3,749.1 L627.9,744.7 L630.8,744.7 L634.5,741.4 L637.4,741.8 L640.3,746.6 L643.2,744.7 L649.1,749.1 L652,749.6 L657.8,753.9 L660.8,752 L665.1,754.5 L670.2,751.6 L675.7,749.9" stroke="#ff0000" stroke-width="0.9" fill="none" stroke-opacity="1" stroke-linejoin="round"/>
<path d="M483.7,759.1 L524.8,759.1 L528.4,748.4 L532.1,743.3 L537.2,732.3 L543,741.1 L552.5,756.4 L555.5,756.9 L558.4,759.1 L573.7,759.1 L577.4,748.4 L579,741.8 L582.6,736.7 L586.3,737.4 L592.1,744.7 L594.3,746.2 L598,744.3 L615.5,758.6 L621.3,754.2 L625,754.2 L627.9,749.1 L634.5,754.2 L637.4,754.2 L640.3,756.4 L649.1,756.4 L652,759.1 L675.7,759.1" stroke="#0000ff" stroke-width="0.9" fill="none" stroke-opacity="1" stroke-linejoin="round"/>
<rect x="483.5" y="675.5" width="192.7" height="83.8" fill="none" stroke="#3a3a3a" stroke-width="1"/>
<path d="M480.5,759.1H483.5M480.5,739.3H483.5M480.5,719.6H483.5M480.5,699.8H483.5M480.5,680.1H483.5" stroke="#3a3a3a" stroke-width="1" fill="none"/>
<text x="667" y="691.3" font-size="10.85" font-weight="bold" fill="#000" text-anchor="end">100 μA</text>
<path d="M546,775v2.1M547.4,775v2.1M549.3,775v2.1M555.7,775v2.1M546.4,777.2v2.1M547.9,777.2v2.1M554.7,777.2v2.1M565.4,777.2v2.1M546,779.4v2.1M552.5,779.4v2.1M554.3,779.4v2.1M577.4,779.4v2.1M514.6,783.8v2.1M549.6,783.8v2.1M551.4,783.8v2.1M554.3,783.8v2.1M557.6,783.8v2.1M560.6,785.7v2.1M548.9,787.9v2.1M551.1,787.9v2.1M559.1,787.9v2.1M546,790v2.1M550.3,790v2.1M556.9,790v2.1M544.1,792.1v2.1M557.6,792.1v2.1M515.3,794v2.1M548.2,794v2.1M571.5,794v2.1M598.3,775v2.1M606,775v2.1M609.4,775v2.1M610.4,775v2.1M618.1,775v2.1M623.5,775v2.1M641.5,775v2.1M647.6,775v2.1M654.9,775v2.1M597.2,777.2v2.1M600.9,777.2v2.1M613.3,777.2v2.1M614,777.2v2.1M602.4,779.4v2.1M605.6,779.4v2.1M617.7,779.4v2.1M625.7,779.4v2.1M649.8,779.4v2.1M656.4,779.4v2.1M605.6,781.3v2.1M617.7,781.3v2.1M639.6,781.3v2.1M597.2,783.8v2.1M599.4,783.8v2.1M608.2,783.8v2.1M645.4,783.8v2.1M590.7,785.7v2.1M601.6,785.7v2.1M605.6,785.7v2.1M582.6,787.9v2.1M598,787.9v2.1M601.6,787.9v2.1M630.8,787.9v2.1M594.3,790v2.1M597.2,790v2.1M600.9,790v2.1M609.4,790v2.1M631.6,790v2.1M664.4,790v2.1M672.4,790v2.1M596.5,792.1v2.1M635.2,792.1v2.1M644.4,792.1v2.1M662.2,792.1v2.1M602.4,794v2.1M603.1,794v2.1M612.6,794v2.1M638.1,794v2.1M639.1,794v2.1M654.6,794v2.1" stroke="#ff0000" stroke-width="0.85" fill="none"/>
<path d="M538.2,798.4v2.1M538.7,800.6v2.1M537.2,805v2.1M538.2,806.7v2.1M544.1,805v2.1M547.4,805v2.1M549.6,802.8v2.1M557.6,805v2.1M541.6,809v2.1M549.6,809v2.1M548.4,813.4v2.1M542.3,817.8v2.1M545.2,817.8v2.1M546.4,817.8v2.1M589.2,798.4v2.1M589.2,800.6v2.1M586.3,802.8v2.1M587.8,802.8v2.1M598,802.8v2.1M613.3,802.8v2.1M593.6,805v2.1M606.7,805v2.1M637.4,805v2.1M639.1,805v2.1M589.2,806.7v2.1M593.6,806.7v2.1M611.4,806.7v2.1M630.4,798.4v2.1M587.5,815.2v2.1M591,817.8v2.1M597.7,817.8v2.1M601.6,815.2v2.1M603.1,815.2v2.1M604.1,817.8v2.1M633.3,817.8v2.1M650.2,815.2v2.1" stroke="#0000ff" stroke-width="0.85" fill="none"/>
<rect x="483.5" y="771.5" width="192.7" height="51.9" fill="none" stroke="#3a3a3a" stroke-width="1"/>
<path d="M480.5,776.4H483.5M480.5,794.7H483.5M480.5,798.2H483.5M480.5,817.2H483.5" stroke="#3a3a3a" stroke-width="1" fill="none"/>
<path d="M495.4,823.4V826.4M555.6,823.4V826.4M615.8,823.4V826.4M676,823.4V826.4" stroke="#3a3a3a" stroke-width="1" fill="none"/>
<text x="495.4" y="837.5" font-size="10.85" font-weight="bold" fill="#000" text-anchor="middle">0</text>
<text x="555.6" y="837.5" font-size="10.85" font-weight="bold" fill="#000" text-anchor="middle">100</text>
<text x="615.8" y="837.5" font-size="10.85" font-weight="bold" fill="#000" text-anchor="middle">200</text>
<text x="674.5" y="837.5" font-size="10.85" font-weight="bold" fill="#000" text-anchor="middle">300</text>
<text x="83.3" y="763.5" font-size="10.85" font-weight="bold" fill="#000" text-anchor="end">0</text>
<text x="83.3" y="743.7" font-size="10.85" font-weight="bold" fill="#000" text-anchor="end">40</text>
<text x="83.3" y="724" font-size="10.85" font-weight="bold" fill="#000" text-anchor="end">80</text>
<text x="83.3" y="704.2" font-size="10.85" font-weight="bold" fill="#000" text-anchor="end">120</text>
<text x="83.3" y="684.5" font-size="10.85" font-weight="bold" fill="#000" text-anchor="end">160</text>
<text x="83.3" y="779.4" font-size="10.85" font-weight="bold" fill="#000" text-anchor="end">10</text>
<text x="83.3" y="793.4" font-size="10.85" font-weight="bold" fill="#000" text-anchor="end">1</text>
<text x="83.3" y="802.4" font-size="10.85" font-weight="bold" fill="#000" text-anchor="end">10</text>
<text x="83.3" y="820.2" font-size="10.85" font-weight="bold" fill="#000" text-anchor="end">1</text>
<text x="386.8" y="851.5" font-size="10.85" font-weight="bold" fill="#000" text-anchor="middle">Time [ms]</text>
<text x="0.3" y="871" font-size="18" font-weight="bold" fill="#000" text-anchor="start">e</text>
<rect x="0.8" y="874.8" width="27" height="164.7" fill="#b1d49c"/>
<text x="16.7" y="958.05" font-size="13.5" font-weight="normal" fill="#fff" text-anchor="middle" transform="rotate(-90 16.7 958.05)" stroke="#fff" stroke-width="0.3">Distant (529 μm)</text>
<text x="46" y="909.5" font-size="10.85" font-weight="bold" fill="#000" text-anchor="middle" transform="rotate(-90 46 909.5)">Firing rate</text>
<text x="58.8" y="909.5" font-size="10.85" font-weight="bold" fill="#000" text-anchor="middle" transform="rotate(-90 58.8 909.5)">[Hz]</text>
<text x="46" y="992.4" font-size="10.85" font-weight="bold" fill="#000" text-anchor="middle" transform="rotate(-90 46 992.4)">Repeat</text>
<text x="59.2" y="992.4" font-size="10.85" font-weight="bold" fill="#000" text-anchor="middle" transform="rotate(-90 59.2 992.4)">number</text>
<path d="M90.5,948.8 L93.1,951 L96,951 L99,955.1 L111.4,955.1 L115,951 L119.4,939.3 L123,933.9 L126.7,936.4 L130.3,944.5 L133.3,951 L136.2,953.2 L142.7,953.2 L145.7,953.9 L150,951 L155.9,934.2 L159.5,934.2 L162.5,928.4 L165.4,940.1 L171.2,940.1 L174.9,948.8 L177.1,945.2 L180,945.9 L183.6,937.9 L188,939.3 L189.4,942.3 L193,936.4 L196,936.4 L198.9,932.5 L201.8,935 L204.7,940.1 L207.6,938.6 L211.3,934.2 L213.5,934.2 L217.1,944.7 L219.3,946.2 L223,938.6 L229.5,925.5 L231.7,926.2 L236.1,935.7 L240.5,944.2 L244.1,934.2 L247,930.6 L250,934.2 L252.9,929.9 L257.3,938.6 L261.6,942.7 L265,938.6 L268.9,942.3 L271.1,937.9 L274.1,924.3 L277,929.9 L280.6,930.6 L282.6,937.2" stroke="#ff0000" stroke-width="0.9" fill="none" stroke-opacity="1" stroke-linejoin="round"/>
<path d="M90.5,955.1 L111.4,955.1 L115,952 L128.9,952 L132.5,948.1 L136.2,948.8 L139.8,951.8 L144.2,955.1 L147.9,951.8 L153,948.1 L155.9,948.8 L159.5,952 L162.5,952 L165.4,955.1 L171.9,955.1 L174.9,952 L177.8,952 L181.4,948.1 L184.4,948.8 L187.9,952 L192.3,952 L195.2,952 L201.8,944.7 L205.4,948.1 L207.6,948.5 L213.5,955.1 L219.3,955.1 L222.7,948.5 L228.1,948.1 L231.7,944.7 L234.6,951 L237.6,948.5 L243.4,948.1 L247,944.5 L261.6,944.5 L265,937.2 L269.7,943.7 L273.3,944.5 L277,948.1 L282.6,941" stroke="#0000ff" stroke-width="0.9" fill="none" stroke-opacity="1" stroke-linejoin="round"/>
<rect x="90.5" y="875.5" width="192.5" height="79.8" fill="none" stroke="#3a3a3a" stroke-width="1"/>
<path d="M87.5,955.2H90.5M87.5,923.3H90.5M87.5,891.4H90.5" stroke="#3a3a3a" stroke-width="1" fill="none"/>
<text x="274" y="889.7" font-size="10.85" font-weight="bold" fill="#000" text-anchor="end">50 μA</text>
<path d="M98.5,975.1v2.1M97.5,981.2v2.1M90.8,987.5v2.1M123.3,981.2v2.1M127.1,971v2.1M129.6,971v2.1M133.5,971v2.1M128.6,973.2v2.1M128.9,975.1v2.1M129.6,977.2v2.1M130,987.5v2.1M140.3,989.3v2.1M152.5,985.2v2.1M159.5,971v2.1M163.2,973.2v2.1M164.6,975.1v2.1M166.1,975.1v2.1M175.3,973.2v2.1M178.5,971v2.1M173.4,977.2v2.1M163.2,979.1v2.1M162.5,983.1v2.1M167.6,983.1v2.1M178.2,983.1v2.1M162.5,987.5v2.1M171.9,989.3v2.1M173.8,989.3v2.1M186.5,983.1v2.1M187.3,985.2v2.1M211.28,971.03v2.1M213.47,971.03v2.1M217.41,971.03v2.1M224.42,971.03v2.1M238.28,971.03v2.1M265.29,971.03v2.1M280.62,971.03v2.1M234.34,973.22v2.1M260.18,973.22v2.1M274.34,973.22v2.1M191.13,975.12v2.1M214.2,975.12v2.1M244.12,975.12v2.1M203.69,977.16v2.1M210.55,977.16v2.1M234.64,977.16v2.1M236.39,977.16v2.1M248.07,977.16v2.1M254.34,977.16v2.1M258.28,977.16v2.1M279.89,977.16v2.1M201.35,979.06v2.1M214.49,979.06v2.1M222.66,979.06v2.1M237.55,979.06v2.1M261.2,979.06v2.1M280.18,979.06v2.1M203.69,981.25v2.1M234.34,981.25v2.1M246.31,981.25v2.1M263.83,981.25v2.1M266.75,981.25v2.1M274.34,981.25v2.1M186.75,983.15v2.1M193.03,983.15v2.1M221.79,983.15v2.1M237.55,983.15v2.1M252.88,983.15v2.1M187.63,985.19v2.1M203.69,985.19v2.1M235.36,985.19v2.1M242.66,985.19v2.1M254.34,985.19v2.1M257.99,985.19v2.1M190.55,987.53v2.1M192.59,987.53v2.1M248.07,987.53v2.1M253.61,987.53v2.1M272.3,987.53v2.1M274.34,987.53v2.1M198.43,989.28v2.1M202.52,989.28v2.1M204.71,989.28v2.1M231.42,989.28v2.1M233.91,989.28v2.1M238.28,989.28v2.1M264.12,989.28v2.1" stroke="#ff0000" stroke-width="0.85" fill="none"/>
<path d="M137.9,993.4v2.1M143.2,993.4v2.1M124.2,1005.8v2.1M164.2,1003.9v2.1M183.6,1001.7v2.1M157.3,1011.9v2.1M203.25,993.36v2.1M260.18,993.36v2.1M191.57,997.6v2.1M212.74,997.6v2.1M256.53,997.6v2.1M268.94,997.6v2.1M271.42,997.6v2.1M247.04,999.5v2.1M255.36,999.5v2.1M267.92,1001.69v2.1M234.34,1005.77v2.1M274.34,1005.77v2.1M209.53,1007.82v2.1M232.45,1007.82v2.1M274.78,1007.82v2.1M243.39,1009.72v2.1" stroke="#0000ff" stroke-width="0.85" fill="none"/>
<rect x="90.5" y="967.5" width="192.5" height="49.8" fill="none" stroke="#3a3a3a" stroke-width="1"/>
<path d="M87.5,971.9H90.5M87.5,990H90.5M87.5,993.9H90.5M87.5,1012.5H90.5" stroke="#3a3a3a" stroke-width="1" fill="none"/>
<path d="M102.4,1017.3V1020.3M162.6,1017.3V1020.3M222.8,1017.3V1020.3M283,1017.3V1020.3" stroke="#3a3a3a" stroke-width="1" fill="none"/>
<text x="102.4" y="1031.9" font-size="10.85" font-weight="bold" fill="#000" text-anchor="middle">0</text>
<text x="162.6" y="1031.9" font-size="10.85" font-weight="bold" fill="#000" text-anchor="middle">100</text>
<text x="222.8" y="1031.9" font-size="10.85" font-weight="bold" fill="#000" text-anchor="middle">200</text>
<text x="283" y="1031.9" font-size="10.85" font-weight="bold" fill="#000" text-anchor="middle">300</text>
<path d="M286.9,946.6 L289.8,949.6 L292.8,949.6 L295.7,955.1 L304.4,955.1 L307.4,949.6 L311,948.8 L313.9,936.4 L316.8,936.4 L319.8,943 L322.7,940.8 L326.3,952.5 L332.2,942.3 L335.1,943 L338,929.9 L345.3,937.2 L347.5,940.1 L349.7,949.6 L353.3,943 L357,940.8 L361.4,933.1 L365,939.3 L370.9,933.9 L373.8,940.1 L377.4,934.2 L381.8,939.3 L385.6,940.5 L389.3,943.3 L394.4,943.3 L398.1,946.2 L401,945.2 L403.9,936.9 L407.5,933.9 L410.5,924.7 L412.9,910.9 L416.3,921.1 L419.2,917.4 L422.9,927.7 L425.1,938.6 L431.6,942.3 L438.2,935.4 L440.4,935.4 L449.2,945.2 L453.5,943 L455.7,942.3 L458.2,935.7 L461.6,939.8 L464.5,941.2 L467.4,940.1 L470.3,946.2 L474,938.6 L476.9,938.3 L479.2,941.5" stroke="#ff0000" stroke-width="0.9" fill="none" stroke-opacity="1" stroke-linejoin="round"/>
<path d="M286.9,951.8 L292.8,951.8 L295.7,955.1 L346.8,955.1 L350.4,951.8 L361.4,951.8 L365.8,947.4 L370.9,947.4 L374.5,951.8 L385.6,951.8 L389.3,955.1 L392.2,955.1 L395.1,951.5 L403.9,951.5 L407.5,955.1 L410.5,951.5 L419.2,951.5 L422.9,955.1 L431.6,944.5 L433.8,944.5 L437.5,948.1 L440.4,948.1 L443.3,951.8 L448.4,951.8 L452.1,948.1 L457.9,948.1 L461.6,944.5 L464.5,951.5 L467.4,948.1 L470.3,948.1 L473.2,951.5 L476.2,948.1 L479.2,948.1" stroke="#0000ff" stroke-width="0.9" fill="none" stroke-opacity="1" stroke-linejoin="round"/>
<rect x="286.5" y="875.5" width="193.2" height="79.8" fill="none" stroke="#3a3a3a" stroke-width="1"/>
<path d="M283.5,955.2H286.5M283.5,923.3H286.5M283.5,891.4H286.5" stroke="#3a3a3a" stroke-width="1" fill="none"/>
<text x="470.5" y="889.7" font-size="10.85" font-weight="bold" fill="#000" text-anchor="end">80 μA</text>
<path d="M288.38,972.93v2.1M293.49,975.12v2.1M293.49,985.19v2.1M319.33,971.03v2.1M338.31,971.03v2.1M363.56,971.03v2.1M318.31,979.06v2.1M323.12,979.06v2.1M324.58,981.25v2.1M323.42,985.19v2.1M324.88,987.53v2.1M333.64,977.16v2.1M343.12,977.16v2.1M342.39,979.06v2.1M343.85,985.19v2.1M348.23,975.12v2.1M349.4,979.06v2.1M347.5,985.19v2.1M349.4,987.53v2.1M353.34,979.06v2.1M359.91,977.16v2.1M363.56,975.12v2.1M366.92,977.16v2.1M368.38,975.12v2.1M373.05,977.16v2.1M371.88,983.15v2.1M371.59,987.53v2.1M378.6,977.16v2.1M378.16,981.25v2.1M382.1,979.06v2.1M380.64,989.28v2.1M385.21,971.03v2.1M414.41,971.03v2.1M425.5,971.03v2.1M437.18,971.03v2.1M440.39,972.93v2.1M441.85,972.93v2.1M448.42,972.93v2.1M478.35,971.03v2.1M390.03,975.12v2.1M444.48,975.12v2.1M450.32,975.12v2.1M454.7,975.12v2.1M387.55,977.16v2.1M399.23,977.16v2.1M425.5,977.16v2.1M428.42,977.16v2.1M458.2,977.16v2.1M466.38,977.16v2.1M468.42,977.16v2.1M475.43,977.16v2.1M382,979.06v2.1M414.41,979.06v2.1M420.25,979.06v2.1M422.58,979.06v2.1M425.5,979.06v2.1M394.85,981.25v2.1M415.87,981.25v2.1M422.58,981.25v2.1M462,981.25v2.1M387.11,983.15v2.1M403.9,983.15v2.1M412.36,983.15v2.1M441.56,983.15v2.1M468.13,983.15v2.1M416.74,985.19v2.1M421.71,985.19v2.1M424.34,985.19v2.1M431.34,985.19v2.1M449.45,985.19v2.1M407.11,987.53v2.1M415.28,987.53v2.1M430.91,987.53v2.1M395.87,989.28v2.1M416.74,989.28v2.1M463.46,989.28v2.1M477.62,989.28v2.1" stroke="#ff0000" stroke-width="0.85" fill="none"/>
<path d="M286.19,1001.69v2.1M295.39,1001.69v2.1M361.08,1007.82v2.1M373.78,1005.77v2.1M376.26,1005.77v2.1M435.72,993.36v2.1M405.65,997.6v2.1M450.91,997.6v2.1M462,997.6v2.1M441.56,999.5v2.1M462.29,1001.69v2.1M386.67,1005.77v2.1M437.18,1005.77v2.1M477.18,1005.77v2.1M422.15,1007.82v2.1M472.22,1009.72v2.1" stroke="#0000ff" stroke-width="0.85" fill="none"/>
<rect x="286.5" y="967.5" width="193.2" height="49.8" fill="none" stroke="#3a3a3a" stroke-width="1"/>
<path d="M283.5,971.9H286.5M283.5,990H286.5M283.5,993.9H286.5M283.5,1012.5H286.5" stroke="#3a3a3a" stroke-width="1" fill="none"/>
<path d="M298.4,1017.3V1020.3M358.6,1017.3V1020.3M418.8,1017.3V1020.3M479,1017.3V1020.3" stroke="#3a3a3a" stroke-width="1" fill="none"/>
<text x="298.4" y="1031.9" font-size="10.85" font-weight="bold" fill="#000" text-anchor="middle">0</text>
<text x="358.6" y="1031.9" font-size="10.85" font-weight="bold" fill="#000" text-anchor="middle">100</text>
<text x="418.8" y="1031.9" font-size="10.85" font-weight="bold" fill="#000" text-anchor="middle">200</text>
<text x="479" y="1031.9" font-size="10.85" font-weight="bold" fill="#000" text-anchor="middle">300</text>
<path d="M483.7,946.6 L486.1,950.3 L489,951.8 L492,955.1 L504.4,955.1 L509.5,930.6 L513.1,925.5 L516,913.5 L519,915.3 L522.6,920.4 L525.5,917.4 L528.4,917.4 L531.4,923.3 L534.3,925.5 L537.2,923.7 L540.6,927.7 L543.8,925.2 L546.7,925.8 L552.5,918.2 L555.5,925.5 L559.1,921.1 L562,919.6 L564.9,919.3 L567.9,907.2 L570.8,910.1 L573.7,915.5 L576.6,917.4 L582.6,911.6 L585.6,891.2 L588.5,889 L591.4,902.8 L594.3,897.7 L597.2,913.8 L600.6,923.3 L603.8,912.3 L606.7,917.4 L609.7,913.1 L612.9,903.6 L616.2,911.6 L618.4,913.1 L624.3,925.5 L627.9,919.3 L630.8,921.1 L633.7,907.2 L639.6,915.3 L645.9,927.2 L651.3,908.2 L654.9,900.4 L658.6,907.2 L663.7,923.3 L666.6,924 L670.2,931.3 L675.7,935.4" stroke="#ff0000" stroke-width="0.9" fill="none" stroke-opacity="1" stroke-linejoin="round"/>
<path d="M483.7,945.9 L486.8,949.6 L491.2,955.1 L516.8,955.1 L522.6,948.5 L525.5,948.5 L528.4,945.2 L534.3,951.8 L537.2,952 L540.1,955.1 L543.8,955.1 L546.7,951.8 L555.5,951.8 L558.4,955.1 L583.4,955.1 L585.6,952 L594.3,952 L597.2,955.1 L606.7,955.1 L612.6,948.5 L618.4,948.5 L624.3,955.1 L627.9,955.1 L631.6,952 L645.4,952 L650.5,948.1 L654.2,951.8 L657.8,952 L660,955.1 L666.6,955.1 L670.2,952 L675.7,952" stroke="#0000ff" stroke-width="0.9" fill="none" stroke-opacity="1" stroke-linejoin="round"/>
<rect x="483.5" y="875.5" width="192.7" height="79.8" fill="none" stroke="#3a3a3a" stroke-width="1"/>
<path d="M480.5,955.2H483.5M480.5,923.3H483.5M480.5,891.4H483.5" stroke="#3a3a3a" stroke-width="1" fill="none"/>
<text x="667.5" y="889.7" font-size="10.85" font-weight="bold" fill="#000" text-anchor="end">100 μA</text>
<path d="M484.21,981.25v2.1M486.55,979.06v2.1M489.47,975.12v2.1M489.47,987.53v2.1M516.33,983.15v2.1M518.66,981.25v2.1M519.25,971.03v2.1M520.71,972.93v2.1M518.66,977.16v2.1M521.15,977.16v2.1M519.25,981.25v2.1M518.66,989.28v2.1M521.88,987.53v2.1M523.63,989.28v2.1M526.55,972.93v2.1M529.91,972.93v2.1M527.42,977.16v2.1M531.36,977.16v2.1M535.31,971.03v2.1M537.93,971.03v2.1M530.64,981.25v2.1M533.85,981.25v2.1M535.01,979.06v2.1M534.28,983.15v2.1M530.64,987.53v2.1M531.36,989.28v2.1M539.39,981.25v2.1M540.12,989.28v2.1M541.58,985.19v2.1M543.77,985.19v2.1M543.48,987.53v2.1M542.61,977.16v2.1M544.5,981.25v2.1M546.4,979.06v2.1M549.61,979.06v2.1M550.78,977.16v2.1M552.24,983.15v2.1M554.28,972.93v2.1M558.37,975.12v2.1M560.12,972.93v2.1M558.37,979.06v2.1M563.48,983.15v2.1M564.21,979.06v2.1M566.4,979.06v2.1M567.86,981.25v2.1M569.32,977.16v2.1M568.59,985.19v2.1M570.34,987.53v2.1M572.68,977.16v2.1M573.26,971.03v2.1M575.16,971.03v2.1M577.35,971.03v2.1M573.26,972.93v2.1M574.14,979.06v2.1M577.35,979.06v2.1M573.26,983.15v2.1M549.32,989.28v2.1M553.26,989.28v2.1M555.45,989.28v2.1M558.37,989.28v2.1M559.83,989.28v2.1M561.29,989.28v2.1M576.62,987.53v2.1M578.08,989.28v2.1M580.47,971v2.1M585.13,971v2.1M595.29,971v2.1M599.09,971v2.1M607.98,971v2.1M615.01,971v2.1M618.64,971v2.1M627.22,971v2.1M630.64,971v2.1M638.41,971v2.1M642.18,971v2.1M646.17,971v2.1M653.84,971v2.1M665.94,971v2.1M670.3,971v2.1M581.38,973.03v2.1M594.81,973.03v2.1M604.16,973.03v2.1M611.52,973.03v2.1M625.26,973.03v2.1M628.77,973.03v2.1M641.21,973.03v2.1M647.4,973.03v2.1M651.99,973.03v2.1M656.28,973.03v2.1M662.67,973.03v2.1M674.65,973.03v2.1M581.24,975.06v2.1M591.27,975.06v2.1M598.37,975.06v2.1M607.39,975.06v2.1M611.09,975.06v2.1M614.74,975.06v2.1M620.01,975.06v2.1M630.49,975.06v2.1M638.19,975.06v2.1M644.65,975.06v2.1M654.09,975.06v2.1M662.08,975.06v2.1M668.37,975.06v2.1M581.6,977.09v2.1M587.28,977.09v2.1M596.6,977.09v2.1M605.38,977.09v2.1M618,977.09v2.1M629.03,977.09v2.1M635.2,977.09v2.1M648.98,977.09v2.1M653.28,977.09v2.1M660.88,977.09v2.1M672.2,977.09v2.1M580.97,979.12v2.1M584.4,979.12v2.1M594.75,979.12v2.1M606.16,979.12v2.1M615.46,979.12v2.1M628.09,979.12v2.1M634.54,979.12v2.1M645.19,979.12v2.1M654.73,979.12v2.1M664.11,979.12v2.1M672.13,979.12v2.1M582.33,981.15v2.1M590.55,981.15v2.1M600.85,981.15v2.1M604.52,981.15v2.1M615.24,981.15v2.1M625.36,981.15v2.1M639.28,981.15v2.1M651.32,981.15v2.1M657.45,981.15v2.1M664.7,981.15v2.1M579.57,983.18v2.1M587.65,983.18v2.1M592.49,983.18v2.1M596.78,983.18v2.1M600.43,983.18v2.1M611.88,983.18v2.1M616.3,983.18v2.1M622.03,983.18v2.1M629.33,983.18v2.1M641.91,983.18v2.1M645.8,983.18v2.1M653.74,983.18v2.1M662.79,983.18v2.1M581.96,985.21v2.1M594.46,985.21v2.1M600.52,985.21v2.1M608.09,985.21v2.1M615.04,985.21v2.1M627.77,985.21v2.1M641.3,985.21v2.1M645.96,985.21v2.1M650.9,985.21v2.1M656.45,985.21v2.1M662.02,985.21v2.1M670.35,985.21v2.1M580.29,987.24v2.1M583.33,987.24v2.1M590.94,987.24v2.1M598,987.24v2.1M607.23,987.24v2.1M620.72,987.24v2.1M631.31,987.24v2.1M639.98,987.24v2.1M649.78,987.24v2.1M660.21,987.24v2.1M663.81,987.24v2.1M581.84,989.27v2.1M594.46,989.27v2.1M606.24,989.27v2.1M613.55,989.27v2.1M620.94,989.27v2.1M625.08,989.27v2.1M635.06,989.27v2.1M638.74,989.27v2.1M642.48,989.27v2.1M647.78,989.27v2.1M652.56,989.27v2.1M659.31,989.27v2.1M662.88,989.27v2.1M665.89,989.27v2.1M670.55,989.27v2.1M674.67,989.27v2.1" stroke="#ff0000" stroke-width="0.85" fill="none"/>
<path d="M484.21,997.6v2.1M489.47,999.5v2.1M538.23,993.36v2.1M532.39,999.5v2.1M556.62,1003.88v2.1M488.59,1009.72v2.1M529.47,1011.91v2.1M619.88,995.41v2.1M658.56,995.41v2.1M623.96,1003.88v2.1M597.25,1005.77v2.1M642.07,1007.82v2.1M654.18,1005.77v2.1" stroke="#0000ff" stroke-width="0.85" fill="none"/>
<rect x="483.5" y="967.5" width="192.7" height="49.8" fill="none" stroke="#3a3a3a" stroke-width="1"/>
<path d="M480.5,971.9H483.5M480.5,990H483.5M480.5,993.9H483.5M480.5,1012.5H483.5" stroke="#3a3a3a" stroke-width="1" fill="none"/>
<path d="M495.4,1017.3V1020.3M555.6,1017.3V1020.3M615.8,1017.3V1020.3M676,1017.3V1020.3" stroke="#3a3a3a" stroke-width="1" fill="none"/>
<text x="495.4" y="1031.9" font-size="10.85" font-weight="bold" fill="#000" text-anchor="middle">0</text>
<text x="555.6" y="1031.9" font-size="10.85" font-weight="bold" fill="#000" text-anchor="middle">100</text>
<text x="615.8" y="1031.9" font-size="10.85" font-weight="bold" fill="#000" text-anchor="middle">200</text>
<text x="676" y="1031.9" font-size="10.85" font-weight="bold" fill="#000" text-anchor="middle">300</text>
<text x="83.3" y="959.6" font-size="10.85" font-weight="bold" fill="#000" text-anchor="end">0</text>
<text x="83.3" y="927.7" font-size="10.85" font-weight="bold" fill="#000" text-anchor="end">40</text>
<text x="83.3" y="895.8" font-size="10.85" font-weight="bold" fill="#000" text-anchor="end">80</text>
<text x="83.3" y="975.9" font-size="10.85" font-weight="bold" fill="#000" text-anchor="end">10</text>
<text x="83.3" y="989.6" font-size="10.85" font-weight="bold" fill="#000" text-anchor="end">1</text>
<text x="83.3" y="998.9" font-size="10.85" font-weight="bold" fill="#000" text-anchor="end">10</text>
<text x="83.3" y="1016.4" font-size="10.85" font-weight="bold" fill="#000" text-anchor="end">1</text>
<text x="383" y="1047.4" font-size="10.85" font-weight="bold" fill="#000" text-anchor="middle">Time [ms]</text></svg></body></html>
